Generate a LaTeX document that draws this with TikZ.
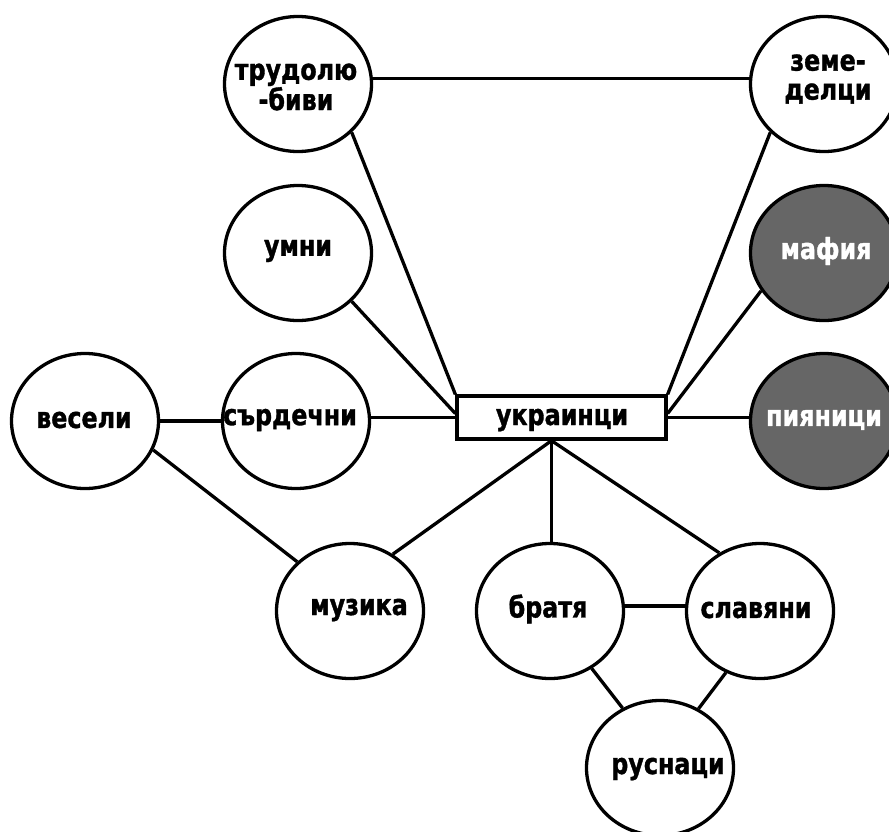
\documentclass[tikz,border=0pt]{standalone}
\usepackage{fontspec}
\setmainfont{DejaVu Sans}[FakeStretch=0.82,FakeBold=1.2]
\usetikzlibrary{shapes.geometric,calc}
\definecolor{darkg}{HTML}{666666}
\begin{document}
\begin{tikzpicture}[x=1pt,y=-1pt,line width=3.3pt,
  bub/.style={ellipse,draw,fill=white,minimum width=147pt,minimum height=135pt,inner sep=0pt},
  darkbub/.style={bub,fill=darkg},
  lbl/.style={font=\fontsize{29}{29}\selectfont\bfseries,inner sep=0pt,align=center},
  wlbl/.style={lbl,text=white},
  box/.style={rectangle,draw,fill=white,minimum width=209pt,minimum height=43pt,inner sep=0pt}]
\clip (0,0) rectangle (889,831);
\fill[white] (0,0) rectangle (889,831);
% bubbles
\node[bub] (trud) at (298,84) {};
\node[bub] (zeme) at (824,84) {};
\node[bub] (umni) at (298,253) {};
\node[darkbub] (maf) at (824,253) {};
\node[bub] (ves) at (85,421) {};
\node[bub] (serd) at (296,421) {};
\node[darkbub] (pyan) at (824,421) {};
\node[box] (ukr) at (561.5,417.5) {};
\node[bub] (muz) at (350,611) {};
\node[bub] (brat) at (550,611) {};
\node[bub] (slav) at (760,611) {};
\node[bub] (rus) at (660,768) {};
% texts
\node[lbl] (trudt) at (296,87) {трудолю\\-биви};
\node[lbl] (zemet) at (828,79) {земе-\\делци};
\node[lbl] (umnit) at (298,251) {умни};
\node[wlbl] (maft) at (826,251) {мафия};
\node[lbl] (vest) at (84,420) {весели};
\node[lbl] (serdt) at (290,420) {сърдечни};
\node[wlbl] (pyant) at (824,420) {пияници};
\node[lbl] (ukrt) at (562,420) {украинци};
\node[lbl] (muzt) at (359,610) {музика};
\node[lbl] (bratt) at (548,609) {братя};
\node[lbl] (slavt) at (756,610) {славяни};
\node[lbl] (rust) at (668,769) {руснаци};
\coordinate (ub) at ([xshift=-10pt]ukr.south);
% connectors
\draw (trud.4) -- (zeme.176);
\draw (trud.-42) -- (ukr.north west);
\draw (umni.-42) -- ([yshift=4pt]ukr.west);
\draw (ukr.west) -- (ukr.west -| serd.east);
\draw (ves.east) -- (serd.west);
\draw (ves.-23) -- (muz.137);
\draw (zeme.-138) -- (ukr.north east);
\draw (maf.-149) -- ([yshift=4pt]ukr.east);
\draw (ukr.east) -- (ukr.east -| pyan.west);
\draw (ub) -- (muz.53);
\draw (ub) -- (ub |- brat.north);
\draw (ub) -- (slav.125);
\draw ([yshift=5pt]brat.east) -- ([yshift=5pt]slav.west);
\draw (brat.-54) -- (rus.122);
\draw (slav.-119) -- (rus.57);
\end{tikzpicture}
\end{document}
